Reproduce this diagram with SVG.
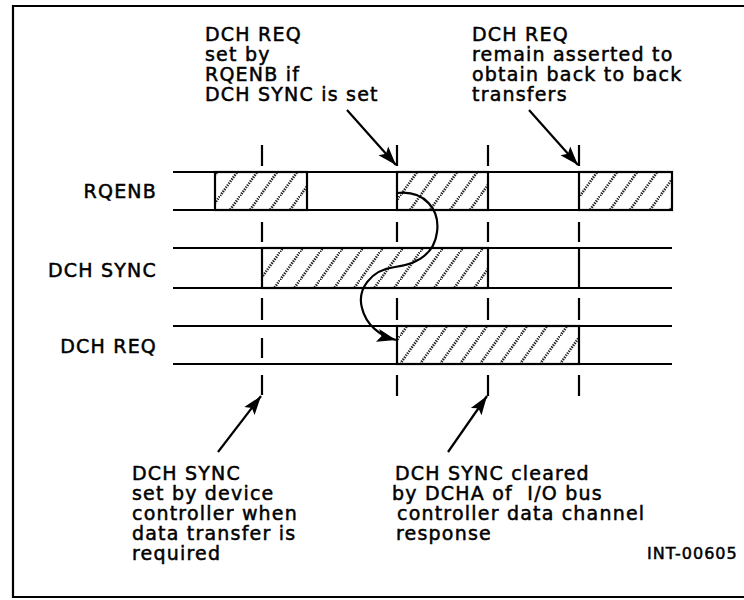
<svg xmlns="http://www.w3.org/2000/svg" width="744" height="600" viewBox="0 0 744 600">
<style>
  .t { font-family: "DejaVu Sans", "Liberation Sans", sans-serif; font-size: 19px; letter-spacing: 1.2px; fill: #000; stroke: #000; stroke-width: 0.5px; }
  .ln { stroke: #000; stroke-width: 2.2; fill: none; }
  .tick { stroke: #000; stroke-width: 2.2; fill: none; }
  .box { fill: url(#hatch); stroke: #000; stroke-width: 2.2; }
  .arr { stroke: #000; stroke-width: 2.2; fill: none; marker-end: url(#ah); }
</style>
<defs>
  <pattern id="hatch" patternUnits="userSpaceOnUse" width="20" height="28">
    <path d="M0,28 L20,0" stroke="#222" stroke-width="2.6" stroke-dasharray="1.4 1.1" fill="none"/>
  </pattern>
  <marker id="ah" markerUnits="userSpaceOnUse" markerWidth="20" markerHeight="14" refX="19" refY="6.5" orient="auto" viewBox="0 0 20 13">
    <path d="M0,0 L19,6.5 L0,13 L4,6.5 Z" fill="#000"/>
  </marker>
</defs>
<rect x="0" y="0" width="744" height="600" fill="#fff"/>
<path d="M746,6 L13,6 L13,597 L746,597" class="ln"/>

<g id="top-left-note">
  <text class="t" x="205" y="41">DCH REQ</text>
  <text class="t" x="205" y="61">set by</text>
  <text class="t" x="205" y="81">RQENB if</text>
  <text class="t" x="205" y="101">DCH SYNC is set</text>
</g>
<g id="top-right-note">
  <text class="t" x="472" y="41">DCH REQ</text>
  <text class="t" x="472" y="61">remain asserted to</text>
  <text class="t" x="472" y="81">obtain back to back</text>
  <text class="t" x="472" y="101">transfers</text>
</g>

<g id="label-rqenb"><text class="t" x="157" y="198" text-anchor="end">RQENB</text></g>
<g id="label-dchsync"><text class="t" x="157" y="277" text-anchor="end">DCH SYNC</text></g>
<g id="label-dchreq"><text class="t" x="157" y="353" text-anchor="end">DCH REQ</text></g>

<g id="wave-rqenb">
  <rect class="box" x="215" y="172" width="92" height="38"/>
  <rect class="box" x="397" y="172" width="91" height="38"/>
  <rect class="box" x="579" y="172" width="93" height="38"/>
  <path class="ln" d="M173,172 H672 M173,210 H672"/>
</g>
<g id="wave-dchsync">
  <rect class="box" x="262" y="248" width="226" height="40"/>
  <path class="ln" d="M173,248 H672 M173,288 H672 M579,248 V288"/>
</g>
<g id="wave-dchreq">
  <rect class="box" x="397" y="326" width="182" height="38"/>
  <path class="ln" d="M173,326 H672 M173,364 H672"/>
</g>

<g id="ticks">
  <path class="tick" d="M262,145 V166 M262,222 V242 M262,298 V320 M262,338 V358 M262,375 V395"/>
  <path class="tick" d="M397,145 V166 M397,222 V242 M397,298 V320 M397,375 V396"/>
  <path class="tick" d="M488,145 V166 M488,222 V242 M488,298 V320 M488,375 V396"/>
  <path class="tick" d="M579,145 V166 M579,222 V242 M579,298 V320 M579,375 V396"/>
</g>

<g id="bottom-left-note">
  <text class="t" x="132" y="480">DCH SYNC</text>
  <text class="t" x="132" y="500">set by device</text>
  <text class="t" x="132" y="520">controller when</text>
  <text class="t" x="132" y="540">data transfer is</text>
  <text class="t" x="132" y="560">required</text>
</g>
<g id="bottom-right-note">
  <text class="t" x="395" y="480">DCH SYNC cleared</text>
  <text class="t" x="392" y="500" xml:space="preserve">by DCHA of  I/O bus</text>
  <text class="t" x="397" y="520">controller data channel</text>
  <text class="t" x="396" y="540">response</text>
</g>
<g id="figure-id">
  <text class="t" x="647" y="559" style="font-size:16px;letter-spacing:1px">INT-00605</text>
</g>

<g id="connectors">
  <path class="arr" d="M347,110 L396,165"/>
  <path class="arr" d="M529,110 L578,165"/>
  <path class="arr" d="M218,452 L261,396"/>
  <path class="arr" d="M448,452 L487,396"/>
  <path class="arr" d="M397,193 C425,190 440,210 437,232 C434,258 410,265 395,267 C370,270 357,290 362,308 C366,325 380,336 396,340"/>
</g>
</svg>
